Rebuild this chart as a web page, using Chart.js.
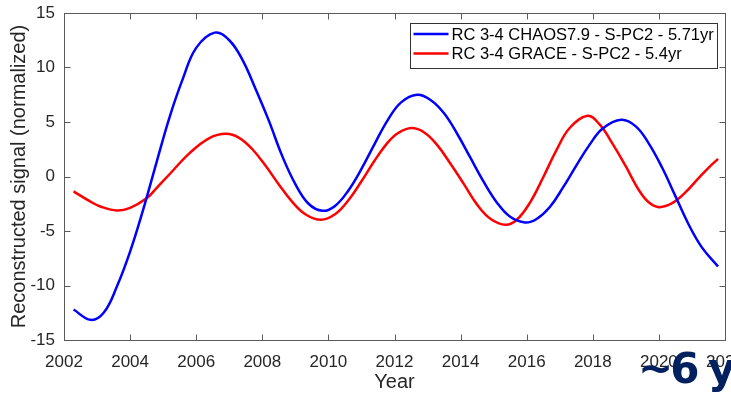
<!DOCTYPE html>
<html>
<head>
<meta charset="utf-8">
<script src="https://cdn.jsdelivr.net/npm/chart.js@4.4.0/dist/chart.umd.min.js"></script>
<style>
  html, body { margin: 0; padding: 0; background: #fff; overflow: hidden; }
  body { width: 731px; height: 397px; position: relative; }
  #wrap { position: absolute; left: 0; top: 0; width: 760px; height: 397px; }
  #note {
    position: absolute; left: 638px; top: 348px;
    font: bold 42px "DejaVu Sans", sans-serif; line-height: 42px;
    letter-spacing: -3px; color: #002060; white-space: nowrap;
  }
</style>
</head>
<body>
<div id="wrap"><canvas id="chart"></canvas></div>
<div id="note">~6 yr</div>
<script>
// values
const chaosYears = [2002.29, 2002.8, 2003.2, 2003.6, 2004.0, 2004.4, 2004.8, 2005.2, 2005.6, 2006.0, 2006.56,
  2007.0, 2007.4, 2007.8, 2008.2, 2008.6, 2009.0, 2009.4, 2009.82,
  2010.2, 2010.6, 2011.0, 2011.4, 2011.8, 2012.2, 2012.68,
  2013.1, 2013.5, 2013.9, 2014.3, 2014.7, 2015.1, 2015.5, 2015.95,
  2016.3, 2016.7, 2017.1, 2017.5, 2017.9, 2018.3, 2018.86,
  2019.3, 2019.7, 2020.1, 2020.5, 2020.9, 2021.3, 2021.79];
const chaosValues = [-12.2, -13.15, -12.5, -10.1, -6.9, -3.0, 1.3, 5.5, 9.0, 11.8, 13.2,
  12.5, 10.7, 8.0, 5.1, 1.9, -0.7, -2.5, -3.15,
  -2.7, -1.3, 0.7, 3.0, 5.2, 6.8, 7.5,
  7.0, 5.8, 3.9, 1.7, -0.5, -2.4, -3.7, -4.22,
  -3.9, -2.8, -1.0, 1.0, 2.9, 4.4, 5.2,
  4.6, 3.0, 0.8, -1.8, -4.4, -6.5, -8.26];

const graceYears = [2002.29, 2002.79, 2003.1, 2003.6, 2004.0, 2004.5, 2004.8, 2005.2, 2005.8, 2006.4, 2006.9,
  2007.3, 2007.7, 2008.1, 2008.5, 2008.9, 2009.3, 2009.77,
  2010.2, 2010.6, 2011.0, 2011.4, 2011.8, 2012.1, 2012.51,
  2012.9, 2013.3, 2013.7, 2014.1, 2014.5, 2014.9, 2015.36,
  2015.7, 2016.1, 2016.5, 2016.9, 2017.3, 2017.84,
  2018.2, 2018.6, 2019.0, 2019.4, 2019.7, 2020.01,
  2020.4, 2020.8, 2021.2, 2021.5, 2021.79];
const graceValues = [-1.37, -2.29, -2.75, -3.12, -2.87, -2.0, -1.06, 0.23, 2.15, 3.53, 3.92,
  3.55, 2.5, 0.98, -0.73, -2.31, -3.46, -3.97,
  -3.47, -2.2, -0.44, 1.47, 3.13, 3.97, 4.44,
  4.04, 2.86, 1.14, -0.7, -2.58, -3.87, -4.43,
  -3.97, -2.39, -0.07, 2.42, 4.45, 5.57,
  4.8, 3.0, 0.92, -1.28, -2.39, -2.81,
  -2.45, -1.46, -0.15, 0.8, 1.62];

const seriesNames = ['RC 3-4 CHAOS7.9 - S-PC2 - 5.71yr', 'RC 3-4 GRACE - S-PC2 - 5.4yr'];
const seriesColors = ['#0000ff', '#ff0000'];

function points(xs, ys) {
  return xs.map((x, i) => ({ x: x, y: ys[i] }));
}

const textColor = '#262626';
const axisColor = '#5a5a5a';
const fontFamily = '"Liberation Sans", Arial, sans-serif';

// box around the axes, inward ticks, legend inside the plot
const matlabAxes = {
  id: 'matlabAxes',
  afterDraw(chart) {
    const ctx = chart.ctx;
    const a = chart.chartArea;
    const xs = chart.scales.x, ys = chart.scales.y;
    const L = Math.round(a.left) + 0.5, R = Math.round(a.right) + 0.5;
    const T = Math.round(a.top) + 0.5, B = Math.round(a.bottom) + 0.5;
    ctx.save();
    ctx.strokeStyle = axisColor;
    ctx.lineWidth = 1;
    ctx.strokeRect(L, T, R - L, B - T);
    ctx.beginPath();
    xs.ticks.forEach(t => {
      const px = Math.round(xs.getPixelForValue(t.value)) + 0.5;
      ctx.moveTo(px, B); ctx.lineTo(px, B - 6);
      ctx.moveTo(px, T); ctx.lineTo(px, T + 6);
    });
    ys.ticks.forEach(t => {
      const py = Math.round(ys.getPixelForValue(t.value)) + 0.5;
      ctx.moveTo(L, py); ctx.lineTo(L + 6, py);
      ctx.moveTo(R, py); ctx.lineTo(R - 6, py);
    });
    ctx.stroke();

    // legend
    const bw = 307, bh = 45;
    const bx = R - 8 - bw, by = T + 10;
    ctx.fillStyle = '#fff';
    ctx.fillRect(bx, by, bw, bh);
    ctx.strokeStyle = '#333';
    ctx.strokeRect(bx, by, bw, bh);
    ctx.font = '16.5px ' + fontFamily;
    ctx.textBaseline = 'middle';
    seriesNames.forEach((name, i) => {
      const ly = by + 10.5 + i * 19.4;
      ctx.strokeStyle = seriesColors[i];
      ctx.lineWidth = 2.5;
      ctx.beginPath();
      ctx.moveTo(bx + 3, ly); ctx.lineTo(bx + 38, ly);
      ctx.stroke();
      ctx.fillStyle = '#000';
      ctx.fillText(name, bx + 41, ly + 1);
    });
    ctx.restore();
  }
};

new Chart(document.getElementById('chart'), {
  type: 'line',
  data: {
    datasets: [{
      label: seriesNames[0],
      data: points(chaosYears, chaosValues),
      borderColor: seriesColors[0],
      borderWidth: 2.5,
      pointRadius: 0,
      tension: 0.4,
      fill: false
    }, {
      label: seriesNames[1],
      data: points(graceYears, graceValues),
      borderColor: seriesColors[1],
      borderWidth: 2.5,
      pointRadius: 0,
      tension: 0.4,
      fill: false
    }]
  },
  options: {
    responsive: true,
    maintainAspectRatio: false,
    animation: false,
    layout: { padding: { left: 0, right: 35, top: 13, bottom: 0 } },
    plugins: {
      legend: { display: false },
      tooltip: { enabled: false }
    },
    scales: {
      x: {
        type: 'linear',
        min: 2002,
        max: 2022,
        grid: { display: false, drawTicks: false },
        border: { display: false },
        ticks: {
          stepSize: 2,
          padding: 12,
          color: textColor,
          font: { family: fontFamily, size: 17 },
          maxRotation: 0,
          callback: v => String(v)
        },
        title: {
          display: true,
          text: 'Year',
          color: textColor,
          font: { family: fontFamily, size: 20 },
          padding: { top: 0, bottom: 3 }
        },
        afterFit(scale) {
          scale.height = 57;
          scale.paddingLeft = 0;
          scale.paddingRight = 0;
        }
      },
      y: {
        min: -15,
        max: 15,
        grid: { display: false, drawTicks: false },
        border: { display: false },
        ticks: {
          stepSize: 5,
          padding: 9,
          color: textColor,
          font: { family: fontFamily, size: 17 }
        },
        title: {
          display: true,
          text: 'Reconstructed signal (normalized)',
          color: textColor,
          font: { family: fontFamily, size: 20 },
          padding: { top: 7, bottom: 0 }
        },
        afterFit(scale) {
          scale.width = 64;
          scale.paddingTop = 0;
          scale.paddingBottom = 0;
        }
      }
    }
  },
  plugins: [matlabAxes]
});
</script>
</body>
</html>
